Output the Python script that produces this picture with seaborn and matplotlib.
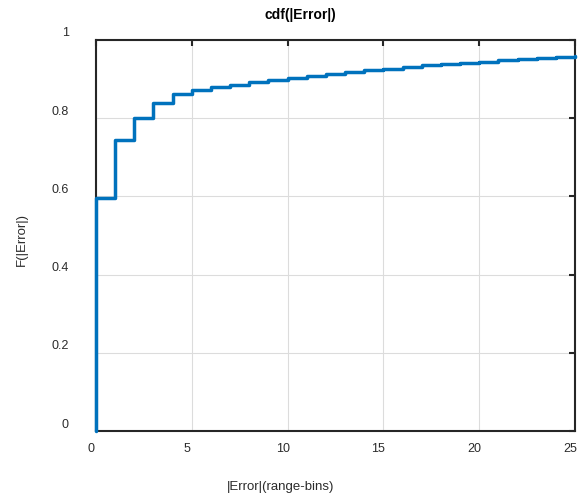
import numpy as np
import pandas as pd
import matplotlib
matplotlib.use("Agg")
import matplotlib.pyplot as plt
import matplotlib.transforms as mtransforms
import seaborn as sns

error_bins = [0, 0, 1, 2, 3, 4, 5, 6, 7, 8, 9, 10, 11, 12, 13, 14, 15, 16, 17,
              18, 19, 20, 21, 22, 23, 24, 25]
cdf_values = [0.0, 0.595, 0.745, 0.800, 0.840, 0.862, 0.871, 0.879, 0.886,
              0.892, 0.898, 0.904, 0.909, 0.914, 0.919, 0.923, 0.927, 0.931,
              0.935, 0.939, 0.942, 0.945, 0.948, 0.951, 0.953, 0.956, 0.958]
x_ticks = [0, 5, 10, 15, 20, 25]
y_ticks = [0, 0.2, 0.4, 0.6, 0.8, 1]
y_tick_labels = ["0", "0.2", "0.4", "0.6", "0.8", "1"]

sns.set_style("whitegrid")
plt.rcParams['font.family'] = ['Liberation Sans', 'DejaVu Sans']

df = pd.DataFrame({"err": error_bins, "F": cdf_values})

fig = plt.figure(figsize=(5.79, 4.96), dpi=100)
ax = fig.add_axes([96 / 579, 1 - 431 / 496, (575 - 96) / 579, (431 - 40) / 496])

sns.lineplot(data=df, x="err", y="F", ax=ax, color="#0072BD", linewidth=2.5,
             drawstyle="steps-post", sort=False, estimator=None, clip_on=False,
             zorder=5)

ax.set_xlim(0, 25)
ax.set_ylim(0, 1)
ax.set_xticks(x_ticks)
ax.set_xticklabels([str(v) for v in x_ticks])
ax.set_yticks(y_ticks)
ax.set_yticklabels(y_tick_labels)
ax.set_xlabel("")
ax.set_ylabel("")

ax.grid(True, color="#dcdcdc", linewidth=0.8)
for s in ax.spines.values():
    s.set_visible(True)
    s.set_color("#262626")
    s.set_linewidth(1.5)

ax.tick_params(axis="both", direction="in", length=4, width=1.5,
               color="#262626", labelcolor="#2b2b2b", labelsize=9,
               top=True, right=True)
ax.tick_params(axis="x", pad=8.5)
ax.tick_params(axis="y", pad=19.5)

# shift tick labels similar to reference
off_x = mtransforms.ScaledTranslation(-5 / 100, 0, fig.dpi_scale_trans)
for lbl in ax.get_xticklabels():
    lbl.set_transform(lbl.get_transform() + off_x)
off_y = mtransforms.ScaledTranslation(0, 8 / 100, fig.dpi_scale_trans)
for lbl in ax.get_yticklabels():
    lbl.set_transform(lbl.get_transform() + off_y)

fig.text(300 / 579, 1 - 15 / 496, "cdf(|Error|)", ha="center", va="center",
         fontsize=10, fontweight="bold", color="#000000")
fig.text(281 / 579, 1 - 487 / 496, "|Error|(range-bins)", ha="center",
         va="center", fontsize=9.5, color="#2b2b2b")
fig.text(22 / 579, 1 - 240 / 496, "F(|Error|)", ha="center", va="center",
         rotation=90, fontsize=9.5, color="#2b2b2b")

fig.savefig("out.png", dpi=100)
